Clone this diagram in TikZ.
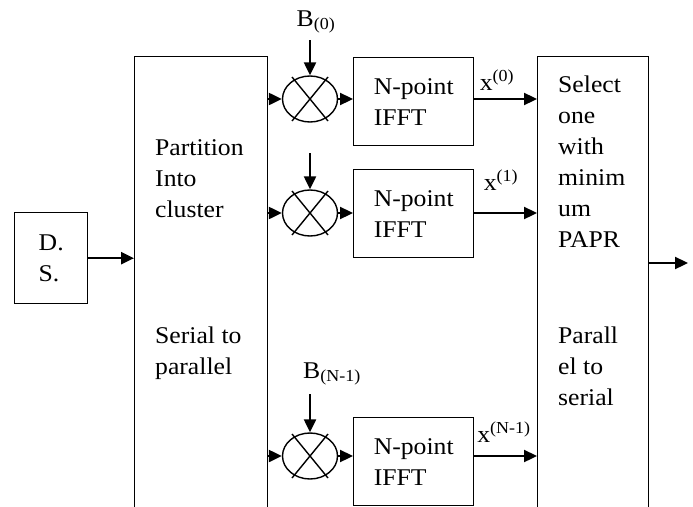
\documentclass[tikz,border=0pt]{standalone}
\usepackage{fontspec}
\setmainfont{Liberation Serif}[FakeStretch=1.07]
\usetikzlibrary{arrows.meta,calc,positioning,shapes.geometric}

\begin{document}
\begin{tikzpicture}[x=1pt,y=-1pt,>={Triangle[length=13pt,width=12pt]},
  every node/.style={font=\fontsize{24}{31}\selectfont},
  blk/.style={draw,line width=1.4pt,inner sep=0pt,anchor=north west},
  mix/.style={draw,ellipse,line width=1.4pt,minimum width=55pt,minimum height=46pt,inner sep=0pt},
  txt/.style={align=left,inner sep=0pt,anchor=north west},
  sig/.style={->,line width=2.3pt}]
  \clip (0,0) rectangle (693,506);

  % source and the two big blocks
  \node[blk,minimum width=73pt,minimum height=91pt,align=left] (ds) at (14,212) {D.\\S.};
  \node[blk,minimum width=133pt,minimum height=480pt] (sp) at (134,56) {};
  \node[blk,minimum width=111pt,minimum height=480pt] (ps) at (537,56) {};
  \node[txt] (sp1) at (155,139) {Partition\\Into\\cluster};
  \node[txt] (sp2) at (155,327) {Serial to\\parallel};
  \node[txt] (ps1) at (558,76) {Select\\one\\with\\minim\\um\\PAPR};
  \node[txt] (ps2) at (558,327) {Parall\\el to\\serial};

  % IFFT branches
  \node[blk,minimum width=120pt,minimum height=88pt,align=left] (f0) at (353,57) {N-point\\IFFT};
  \node[blk,minimum width=120pt,minimum height=88pt,align=left] (f1) at (353,169) {N-point\\IFFT};
  \node[blk,minimum width=120pt,minimum height=88pt,align=left] (f2) at (353,417) {N-point\\IFFT};

  \node[mix] (m0) at (310,99) {};
  \node[mix] (m1) at (310,213) {};
  \node[mix] (m2) at (310,456) {};
  \foreach \m in {m0,m1,m2} {
    \draw[line width=1.4pt] ($(\m)+(-18,-22)$) -- ($(\m)+(18,22)$);
    \draw[line width=1.4pt] ($(\m)+(18,-22)$) -- ($(\m)+(-18,22)$);
  }

  \coordinate (in0) at (310,40);
  \coordinate (in1) at (310,153);
  \coordinate (in2) at (310,394);
  \node (b0) at (316,22) {B\textsubscript{(0)}};
  \node (b2) at (332,374) {B\textsubscript{(N-1)}};

  \foreach \i in {0,1,2} {
    \draw[sig] (in\i) -- (m\i.north);
    \draw[sig] (m\i -| sp.east) -- (m\i.west);
    \draw[sig] (m\i.east) -- (m\i -| f\i.west);
    \draw[sig] (m\i -| f\i.east) -- (m\i -| ps.west);
  }
  \node (x0) at (497,80) {x\textsuperscript{(0)}};
  \node (x1) at (501,180) {x\textsuperscript{(1)}};
  \node (x2) at (504,432) {x\textsuperscript{(N-1)}};

  \draw[sig] (ds.east) -- (ds.east -| sp.west);
  \coordinate (out) at (688,263);
  \draw[sig] (ps.east |- out) -- (out);
\end{tikzpicture}
\end{document}
